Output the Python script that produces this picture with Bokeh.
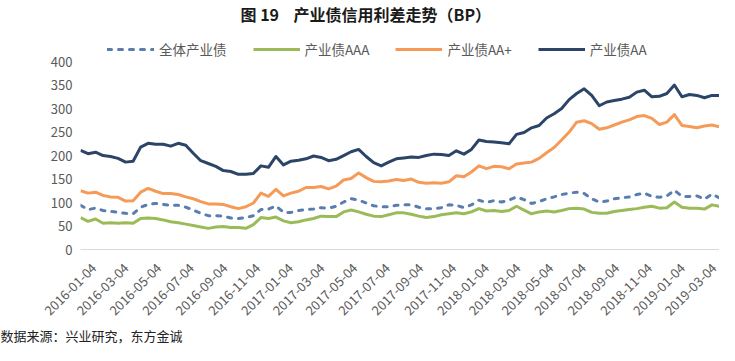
import math
from datetime import datetime
import pandas as pd
from bokeh.plotting import figure
from bokeh.models import (Range1d, FixedTicker, CustomJSTickFormatter, Title, Label,
                          Legend, LegendItem)
from bokeh.embed import file_html
from bokeh.resources import INLINE

dates = pd.date_range("2016-01-04", periods=86, freq="14D")

all_ind = [94, 85, 88, 83, 81, 79, 77, 76, 90, 96, 98, 96, 94, 94, 90, 84, 77, 72, 72, 71,
           67, 66, 68, 72, 85, 86, 93, 79, 79, 83, 85, 86, 89, 88, 92, 101, 108, 105,
           99, 93, 91, 91, 94, 95, 95, 90, 87, 87, 89, 95, 94, 89, 95, 105, 100, 104, 101, 105,
           112, 106, 98, 102, 108, 112, 117, 120, 122, 119, 108, 101, 103, 108, 110, 112, 117, 120,
           113, 111, 114, 126, 113, 113, 114, 107, 118, 110]
aaa = [68, 60, 65, 56, 57, 56, 57, 56, 66, 67, 66, 63, 59, 57, 54, 51, 48, 45, 48, 49,
       47, 47, 45, 53, 68, 66, 69, 61, 57, 59, 63, 66, 71, 70, 70, 80, 84, 80,
       75, 71, 70, 74, 78, 78, 75, 71, 68, 70, 74, 76, 78, 76, 80, 87, 82, 83, 81, 83,
       92, 84, 76, 80, 82, 80, 83, 87, 88, 86, 79, 77, 77, 81, 83, 85, 87, 90, 92, 88,
       89, 101, 90, 88, 88, 86, 95, 92]
aa_plus = [125, 120, 122, 115, 112, 111, 103, 104, 122, 130, 124, 119, 119, 117, 112, 108, 102, 97, 97, 96,
           91, 87, 91, 99, 120, 113, 128, 114, 120, 124, 132, 132, 134, 129, 135, 148, 151, 163,
           153, 145, 144, 146, 149, 147, 150, 143, 141, 142, 141, 144, 157, 155, 165, 178, 172, 177, 176, 172,
           182, 184, 186, 194, 206, 217, 233, 250, 271, 274, 268, 256, 259, 265, 271, 276, 283, 285, 279, 266,
           271, 287, 264, 262, 259, 263, 265, 261]
aa = [211, 204, 207, 200, 198, 194, 186, 188, 218, 226, 224, 224, 220, 226, 222, 205, 189, 183, 177, 168,
      166, 160, 160, 162, 178, 175, 198, 180, 188, 190, 193, 199, 196, 189, 192, 200, 208, 213,
      198, 185, 178, 186, 193, 195, 197, 196, 200, 203, 202, 200, 210, 203, 213, 233, 230, 229, 227, 225,
      245, 249, 259, 264, 280, 289, 300, 319, 332, 342, 328, 306, 314, 317, 320, 324, 335, 339, 325, 326,
      332, 350, 325, 330, 328, 323, 328, 328]

tick_labels = ["2016-01-04", "2016-03-04", "2016-05-04", "2016-07-04", "2016-09-04",
               "2016-11-04", "2017-01-04", "2017-03-04", "2017-05-04", "2017-07-04",
               "2017-09-04", "2017-11-04", "2018-01-04", "2018-03-04", "2018-05-04",
               "2018-07-04", "2018-09-04", "2018-11-04", "2019-01-04", "2019-03-04"]
y_ticks = [0, 50, 100, 150, 200, 250, 300, 350, 400]

series_names = ["全体产业债", "产业债AAA", "产业债AA+", "产业债AA"]
colors = ["#5A7DB0", "#9BBB59", "#F59B57", "#2B4468"]

title_text = "图\u00a019\u00a0\u00a0\u00a0\u00a0产业债信用利差走势（BP）"
source_text = "数据来源：兴业研究，东方金诚"

CJK = "Noto Sans CJK SC"
GREY = "#595959"

# the plot area reaches up to the top of the picture so that the title and
# legend (drawn inside it, above the 400 line) are not clipped
p = figure(width=719, height=345, x_axis_type="datetime",
           x_range=Range1d(datetime(2016, 1, 4), datetime(2019, 4, 8)),
           y_range=Range1d(0, 530),
           output_backend="svg", toolbar_location=None,
           min_border_left=80, min_border_right=0, min_border_top=0, min_border_bottom=0)
p.outline_line_color = None
p.xgrid.grid_line_color = None
p.ygrid.grid_line_color = None

r_all = p.line(dates, all_ind, line_color=colors[0], line_width=3, line_dash="4 7", line_cap="round")
r_aaa = p.line(dates, aaa, line_color=colors[1], line_width=3, line_join="round")
r_aap = p.line(dates, aa_plus, line_color=colors[2], line_width=3, line_join="round")
r_aa = p.line(dates, aa, line_color=colors[3], line_width=3, line_join="round")

# x axis: Excel places each rotated label's end a little right of its date,
# so the label anchor is shifted by a fixed amount; the text stays the date.
label_shift_ms = 25 * 86400000
tick_ms = [pd.Timestamp(t).value / 1e6 + label_shift_ms for t in tick_labels]
xa = p.xaxis[0]
xa.ticker = FixedTicker(ticks=tick_ms)
xa.formatter = CustomJSTickFormatter(args=dict(shift=label_shift_ms), code="""
const d = new Date(tick - shift);
const y = d.getUTCFullYear();
const m = String(d.getUTCMonth() + 1).padStart(2, '0');
const dd = String(d.getUTCDate()).padStart(2, '0');
return y + '-' + m + '-' + dd;
""")
xa.major_label_orientation = math.pi / 4
xa.major_tick_line_color = None
xa.minor_tick_line_color = None
xa.major_tick_in = 0
xa.major_tick_out = 0
xa.axis_line_color = "#D9D9D9"
xa.axis_line_width = 1
xa.major_label_text_font = CJK
xa.major_label_text_font_size = "13px"
xa.major_label_text_color = GREY
xa.major_label_standoff = 16

ya = p.yaxis[0]
ya.ticker = FixedTicker(ticks=y_ticks)
ya.axis_line_color = None
ya.major_tick_line_color = None
ya.minor_tick_line_color = None
ya.major_tick_in = 0
ya.major_tick_out = 0
ya.major_label_text_font = CJK
ya.major_label_text_font_size = "13px"
ya.major_label_text_color = GREY
ya.major_label_standoff = 8

legend = Legend(items=[LegendItem(label=series_names[0], renderers=[r_all]),
                       LegendItem(label=series_names[1], renderers=[r_aaa]),
                       LegendItem(label=series_names[2], renderers=[r_aap]),
                       LegendItem(label=series_names[3], renderers=[r_aa])],
                orientation="horizontal", location=(27, 190),
                glyph_width=47, glyph_height=14, label_standoff=5, spacing=26,
                padding=0, margin=0, border_line_color=None, background_fill_alpha=0,
                label_text_font=CJK, label_text_font_size="13.5px", label_text_color=GREY)
p.add_layout(legend, "center")

p.add_layout(Label(x=160, y=236, x_units="screen", y_units="screen", text=title_text,
                   text_align="left", text_baseline="middle", text_font=CJK,
                   text_font_size="16px", text_font_style="bold", text_color="#1a1a1a"))

p.add_layout(Title(text=source_text, align="left", offset=-80, standoff=2,
                   text_baseline="alphabetic",
                   text_font=CJK, text_font_size="13px", text_font_style="normal",
                   text_color="#222222"), "below")

open("out.html", "w").write(file_html(p, INLINE))
